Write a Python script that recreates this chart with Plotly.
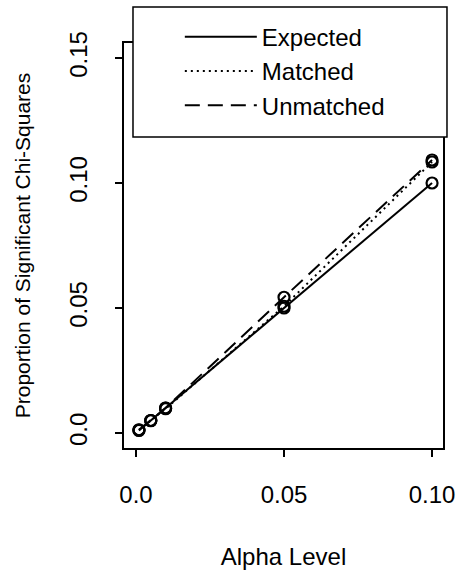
import plotly.graph_objects as go

alpha = [0.001, 0.005, 0.01, 0.05, 0.10]
expected = [0.001, 0.005, 0.01, 0.05, 0.10]
matched = [0.0012, 0.0049, 0.0097, 0.0507, 0.1084]
unmatched = [0.0013, 0.0050, 0.0100, 0.0543, 0.1092]

series_names = ["Expected", "Matched", "Unmatched"]
x_ticks = [0.0, 0.05, 0.10]
x_tick_text = ["0.0", "0.05", "0.10"]
y_ticks = [0.0, 0.05, 0.10, 0.15]
y_tick_text = ["0.0", "0.05", "0.10", "0.15"]

FONT = "Liberation Sans, Arial, Helvetica, sans-serif"

fig = go.Figure()
styles = {
    "Expected": "solid",
    "Matched": "2px,4px",
    "Unmatched": "15px,8px",
}
for name, ys in zip(series_names, [expected, matched, unmatched]):
    fig.add_trace(go.Scatter(
        x=alpha, y=ys, name=name, mode="lines", legendgroup=name,
        line=dict(color="black", width=2, dash=styles[name]),
    ))
for name, ys in zip(series_names, [expected, matched, unmatched]):
    fig.add_trace(go.Scatter(
        x=alpha, y=ys, name=name, mode="markers", legendgroup=name,
        showlegend=False,
        marker=dict(symbol="circle-open", size=11, color="black",
                    line=dict(width=2.2, color="black")),
    ))

# legend box (white background with border)
fig.add_shape(type="rect", xref="paper", yref="paper",
              x0=0.0282, x1=1.0125, y0=0.7679, y1=1.0889,
              fillcolor="white", line=dict(color="black", width=1.5),
              layer="above")

axis_common = dict(
    showgrid=False, zeroline=False, showline=True, mirror=True,
    linecolor="black", linewidth=1.8, ticks="outside", ticklen=7,
    tickwidth=1.5, tickcolor="black", automargin=False,
    tickfont=dict(family=FONT, size=24, color="black"),
)

fig.update_layout(
    width=460, height=576, autosize=False,
    margin=dict(l=124, r=17, t=43, b=128, autoexpand=False),
    paper_bgcolor="white", plot_bgcolor="white",
    font=dict(family=FONT, size=24, color="black"),
    showlegend=True,
    legend=dict(
        x=0.175, y=1.07, xanchor="left", yanchor="top",
        bgcolor="rgba(0,0,0,0)", borderwidth=0,
        font=dict(family=FONT, size=24, color="black"),
        itemwidth=72, tracegroupgap=0,
    ),
    xaxis=dict(
        range=[-0.00405, 0.1037],
        tickvals=x_ticks, ticktext=x_tick_text,
        ticklabelstandoff=17,
        title=dict(text="Alpha Level", standoff=41,
                   font=dict(family=FONT, size=24, color="black")),
        **axis_common,
    ),
    yaxis=dict(
        range=[-0.006, 0.156],
        tickvals=y_ticks, ticktext=y_tick_text, tickangle=-90,
        ticklabelstandoff=19,
        title=dict(text="Proportion of Significant Chi-Squares", standoff=28,
                   font=dict(family=FONT, size=21, color="black")),
        **axis_common,
    ),
)

fig.write_html("out.html", config={"displayModeBar": False},
               post_script="document.body.style.margin='0';")
